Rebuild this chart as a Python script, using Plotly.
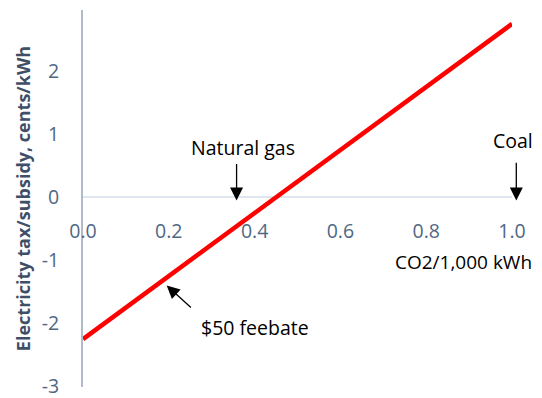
import plotly.graph_objects as go

# data
co2 = [0.0, 1.0]
tax = [-2.25, 2.75]

x_ticks = [0.0, 0.2, 0.4, 0.6, 0.8, 1.0]
x_tick_labels = ["0.0", "0.2", "0.4", "0.6", "0.8", "1.0"]
y_ticks = [-3, -2, -1, 0, 1, 2]
y_tick_labels = ["-3", "-2", "-1", "0", "1", "2"]

arrow_labels = ["Natural gas", "Coal", "$50 feebate"]
arrow_tip_x = [0.358, 1.01, 0.195]
arrow_tip_y = [-0.05, -0.05, -1.40]
arrow_tail_x = [0.358, 1.01, 0.255]
arrow_tail_y = [0.55, 0.57, -1.77]
label_x = [0.372, 1.003, 0.40]
label_y = [0.79, 0.90, -2.06]

x_title = "CO2/1,000 kWh"
x_title_pos = [1.052, -1.02]
y_title = "Electricity tax/subsidy, cents/kWh"

FONT = "Open Sans"
TICK_COLOR = "#506784"

fig = go.Figure()
fig.add_trace(go.Scatter(x=co2, y=tax, mode="lines",
                         line=dict(color="#ff0000", width=4.5),
                         showlegend=False, hoverinfo="skip"))

yr = [-3.01, 2.97]
W, H = 542, 398
m_l, m_r, m_t, m_b = 75, 38, 2, 19
plot_w = W - m_l - m_r
px_per_unit = (H - m_t - m_b) / (yr[1] - yr[0])

annotations = []
for i, lab in enumerate(arrow_labels):
    annotations.append(dict(
        x=arrow_tip_x[i], y=arrow_tip_y[i], xref="paper", yref="y",
        ax=(arrow_tail_x[i] - arrow_tip_x[i]) * plot_w,
        ay=-(arrow_tail_y[i] - arrow_tip_y[i]) * px_per_unit,
        axref="pixel", ayref="pixel",
        text="", showarrow=True, arrowhead=2, arrowsize=2.0,
        arrowwidth=1.3, arrowcolor="black"))
    annotations.append(dict(
        x=label_x[i], y=label_y[i], xref="paper", yref="y",
        xanchor="center", yanchor="middle",
        text=lab, showarrow=False,
        font=dict(family=FONT, size=19.5, color="black")))

annotations.append(dict(
    x=x_title_pos[0], y=x_title_pos[1], xref="paper", yref="y", xanchor="right",
    text=x_title, showarrow=False,
    font=dict(family=FONT, size=19, color="black")))

fig.update_layout(
    width=W, height=H,
    margin=dict(l=m_l, r=m_r, t=m_t, b=m_b),
    plot_bgcolor="white", paper_bgcolor="white",
    font=dict(family=FONT, size=19.5, color=TICK_COLOR),
    annotations=annotations,
    xaxis=dict(
        range=[0, 1.0], tickvals=x_ticks, ticktext=x_tick_labels,
        showgrid=False, zeroline=False, showline=False, automargin=False,
        anchor="free", position=(0 - yr[0]) / (yr[1] - yr[0]),
        ticks="outside", ticklen=0, ticklabelstandoff=16,
        tickfont=dict(family=FONT, size=19.5, color=TICK_COLOR),
    ),
    yaxis=dict(
        range=yr, tickvals=y_ticks, ticktext=y_tick_labels,
        showgrid=False, zeroline=True, zerolinecolor="#dfe6ee", zerolinewidth=2,
        showline=True, linecolor="#aebbcc", linewidth=2, automargin=False,
        ticks="", ticklabelstandoff=18,
        tickfont=dict(family=FONT, size=19.5, color=TICK_COLOR),
        title=dict(text="<b>" + y_title + "</b>", standoff=6,
                   font=dict(family=FONT, size=18, color="#3f4f68")),
    ),
)

fig.write_html("out.html")
